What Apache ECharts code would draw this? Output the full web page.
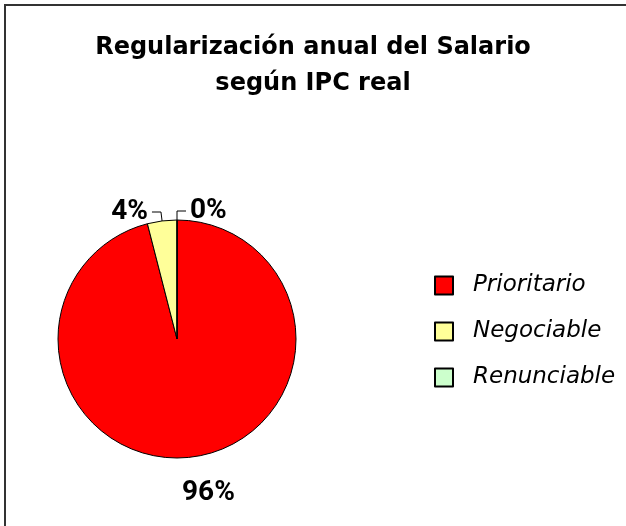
<!DOCTYPE html>
<html>
<head>
    <meta charset="UTF-8">
    <title>Regularización anual del Salario</title>
    <script src="https://cdn.jsdelivr.net/npm/echarts@6/dist/echarts.min.js"></script>
    <style>
        html, body { margin: 0; padding: 0; background: #fff; }
        #main { width: 626px; height: 526px; }
    </style>
</head>
<body>
<div id="main"></div>
<script>
    // datos del gráfico
    var categorias = ['Prioritario', 'Negociable', 'Renunciable'];
    var valores = [96, 4, 0];
    var colores = ['#FF0000', '#FFFF99', '#CCFFCC'];

    var chart = echarts.init(document.getElementById('main'));

    var datos = categorias.map(function (c, i) {
        var d = { name: c, value: valores[i], itemStyle: { color: colores[i] } };
        if (i === 0) {
            // etiqueta grande abajo, sin línea
            d.labelLine = { show: false };
        }
        return d;
    });

    var option = {
        animation: false,
        title: {
            text: 'Regularización anual del Salario\nsegún IPC real',
            left: 'center',
            top: 25,
            textStyle: {
                fontFamily: 'DejaVu Sans',
                fontSize: 24,
                fontWeight: 'bold',
                color: '#000',
                lineHeight: 36
            }
        },
        legend: {
            orient: 'vertical',
            left: 434,
            top: 274,
            padding: 0,
            itemWidth: 18,
            itemHeight: 18,
            itemGap: 23,
            icon: 'rect',
            data: categorias,
            itemStyle: { borderColor: '#000', borderWidth: 2 },
            textStyle: {
                fontFamily: 'DejaVu Sans',
                fontSize: 23,
                fontStyle: 'italic',
                color: '#000',
                padding: [0, 0, 0, 15]
            }
        },
        graphic: [{
            type: 'polyline',
            shape: { points: [[5, 526], [5, 5], [626, 5]] },
            style: { fill: 'none', stroke: '#333', lineWidth: 2 }
        }],
        series: [{
            type: 'pie',
            center: [177, 339],
            radius: 119,
            startAngle: 89.999,
            clockwise: true,
            minShowLabelAngle: -1,
            avoidLabelOverlap: false,
            itemStyle: { borderColor: '#000', borderWidth: 1 },
            label: {
                show: true,
                position: 'outside',
                formatter: '{d}%',
                fontFamily: 'Roboto',
                fontSize: 28,
                fontWeight: 'bold',
                color: '#000',
                distanceToLabelLine: 4
            },
            labelLine: {
                show: true,
                length: 9,
                length2: 9,
                lineStyle: { color: '#000', width: 1 }
            },
            labelLayout: function (p) {
                // centrar la etiqueta del 96% bajo la tarta
                if (p.dataIndex === 0) {
                    return { dx: -24, dy: 27 };
                }
            },
            emphasis: { disabled: true },
            data: datos
        }]
    };
    chart.setOption(option);
</script>
</body>
</html>
